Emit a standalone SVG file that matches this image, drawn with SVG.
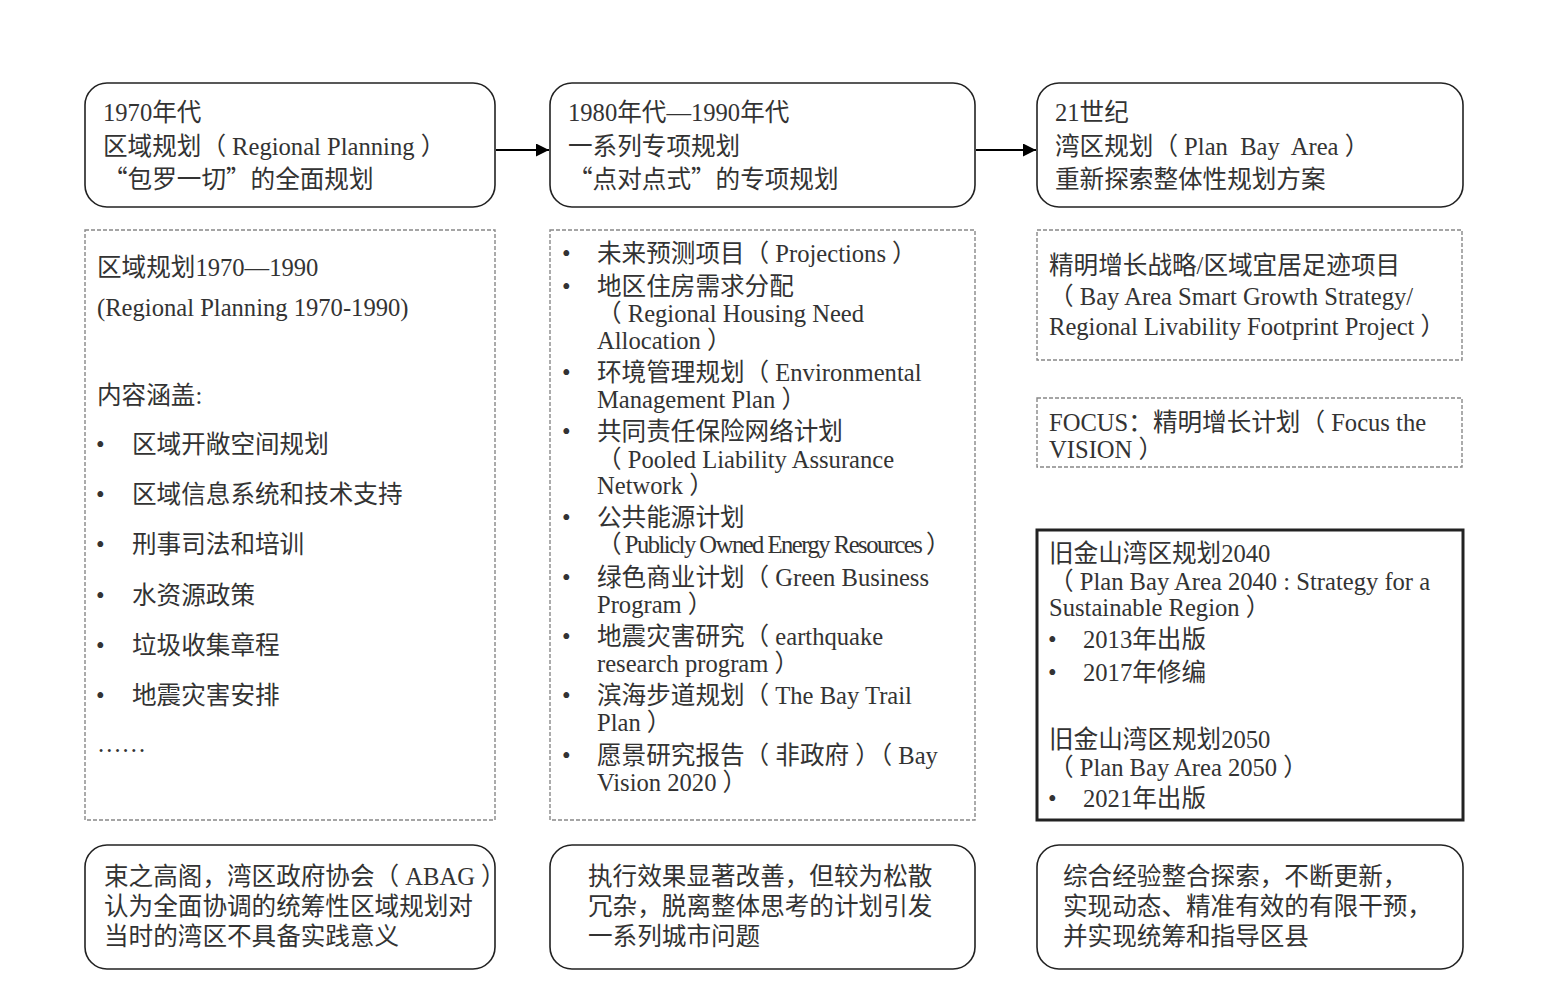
<svg xmlns="http://www.w3.org/2000/svg" width="1541" height="987" viewBox="0 0 1541 987">
<style>
text{font-family:"Liberation Serif","Noto Sans CJK SC",serif;font-size:24.6px;fill:#333;white-space:pre}
.q{font-family:"Noto Sans CJK SC",sans-serif}
.rb{fill:#fff;stroke:#222;stroke-width:1.6}
.db{fill:#fff;stroke:#888;stroke-width:1.4;stroke-dasharray:4 2}
.sb{fill:#fff;stroke:#222;stroke-width:3}
.cn{stroke:#000;stroke-width:2;fill:none}
</style>
<defs>
<marker id="ah" viewBox="0 0 10 10" refX="10" refY="5" markerWidth="14" markerHeight="13" markerUnits="userSpaceOnUse" orient="auto"><path d="M0,0 L10,5 L0,10 z" fill="#000"/></marker>
</defs>
<rect width="1541" height="987" fill="#fff"/>
<g id="connectors">
<line class="cn" x1="496" y1="150" x2="549" y2="150" marker-end="url(#ah)"/>
<line class="cn" x1="976" y1="150" x2="1036" y2="150" marker-end="url(#ah)"/>
</g>
<g id="top1">
<rect class="rb" x="85" y="83" width="410" height="124" rx="22"/>
<text x="103" y="121">1970年代</text>
<text x="103" y="155">区域规划（ Regional Planning ）</text>
<text x="103" y="188"><tspan class="q">“包罗一切”</tspan>的全面规划</text>
</g>
<g id="top2">
<rect class="rb" x="550" y="83" width="425" height="124" rx="22"/>
<text x="568" y="121">1980年代—1990年代</text>
<text x="568" y="155">一系列专项规划</text>
<text x="568" y="188"><tspan class="q">“点对点式”</tspan>的专项规划</text>
</g>
<g id="top3">
<rect class="rb" x="1037" y="83" width="426" height="124" rx="22"/>
<text x="1055" y="121">21世纪</text>
<text x="1055" y="155">湾区规划（ Plan  Bay  Area ）</text>
<text x="1055" y="188">重新探索整体性规划方案</text>
</g>
<g id="mid1">
<rect class="db" x="85" y="230" width="410" height="590"/>
<text x="97" y="276">区域规划1970—1990</text>
<text x="97" y="316">(Regional Planning 1970-1990)</text>
<text x="97" y="404">内容涵盖:</text>
<text x="96" y="453">•</text><text x="132" y="453">区域开敞空间规划</text>
<text x="96" y="503">•</text><text x="132" y="503">区域信息系统和技术支持</text>
<text x="96" y="553">•</text><text x="132" y="553">刑事司法和培训</text>
<text x="96" y="604">•</text><text x="132" y="604">水资源政策</text>
<text x="96" y="654">•</text><text x="132" y="654">垃圾收集章程</text>
<text x="96" y="704">•</text><text x="132" y="704">地震灾害安排</text>
<text x="97" y="752">……</text>
</g>
<g id="mid2">
<rect class="db" x="550" y="230" width="425" height="590"/>
<text x="562" y="262">•</text><text x="597" y="262">未来预测项目（ Projections ）</text>
<text x="562" y="295">•</text><text x="597" y="295">地区住房需求分配</text>
<text x="597" y="322">（ Regional Housing Need</text>
<text x="597" y="349">Allocation ）</text>
<text x="562" y="381">•</text><text x="597" y="381">环境管理规划（ Environmental</text>
<text x="597" y="408">Management Plan ）</text>
<text x="562" y="440">•</text><text x="597" y="440">共同责任保险网络计划</text>
<text x="597" y="468">（ Pooled Liability Assurance</text>
<text x="597" y="494">Network ）</text>
<text x="562" y="526">•</text><text x="597" y="526">公共能源计划</text>
<text x="597" y="553" letter-spacing="-1.5">（ Publicly Owned Energy Resources ）</text>
<text x="562" y="586">•</text><text x="597" y="586">绿色商业计划（ Green Business</text>
<text x="597" y="613">Program ）</text>
<text x="562" y="645">•</text><text x="597" y="645">地震灾害研究（ earthquake</text>
<text x="597" y="672">research program ）</text>
<text x="562" y="704">•</text><text x="597" y="704">滨海步道规划（ The Bay Trail</text>
<text x="597" y="731">Plan ）</text>
<text x="562" y="764">•</text><text x="597" y="764">愿景研究报告（ 非政府 ）（ Bay</text>
<text x="597" y="791">Vision 2020 ）</text>
</g>
<g id="mid3a">
<rect class="db" x="1037" y="230" width="425" height="130"/>
<text x="1049" y="274">精明增长战略/区域宜居足迹项目</text>
<text x="1049" y="305">（ Bay Area Smart Growth Strategy/</text>
<text x="1049" y="335">Regional Livability Footprint Project ）</text>
</g>
<g id="mid3b">
<rect class="db" x="1037" y="398" width="425" height="69"/>
<text x="1049" y="431">FOCUS：精明增长计划（ Focus the</text>
<text x="1049" y="458">VISION ）</text>
</g>
<g id="mid3c">
<rect class="sb" x="1037" y="530" width="426" height="290"/>
<text x="1049" y="562">旧金山湾区规划2040</text>
<text x="1049" y="590">（ Plan Bay Area 2040 : Strategy for a</text>
<text x="1049" y="616">Sustainable Region ）</text>
<text x="1048" y="648">•</text><text x="1083" y="648">2013年出版</text>
<text x="1048" y="681">•</text><text x="1083" y="681">2017年修编</text>
<text x="1049" y="748">旧金山湾区规划2050</text>
<text x="1049" y="776">（ Plan Bay Area 2050 ）</text>
<text x="1048" y="807">•</text><text x="1083" y="807">2021年出版</text>
</g>
<g id="bot1">
<rect class="rb" x="85" y="845" width="410" height="124" rx="22"/>
<text x="104" y="885">束之高阁，湾区政府协会（ ABAG ）</text>
<text x="104" y="915">认为全面协调的统筹性区域规划对</text>
<text x="104" y="945">当时的湾区不具备实践意义</text>
</g>
<g id="bot2">
<rect class="rb" x="550" y="845" width="425" height="124" rx="22"/>
<text x="588" y="885">执行效果显著改善，但较为松散</text>
<text x="588" y="915">冗杂，脱离整体思考的计划引发</text>
<text x="588" y="945">一系列城市问题</text>
</g>
<g id="bot3">
<rect class="rb" x="1037" y="845" width="426" height="124" rx="22"/>
<text x="1063" y="885">综合经验整合探索，不断更新，</text>
<text x="1063" y="915">实现动态、精准有效的有限干预，</text>
<text x="1063" y="945">并实现统筹和指导区县</text>
</g>
</svg>
